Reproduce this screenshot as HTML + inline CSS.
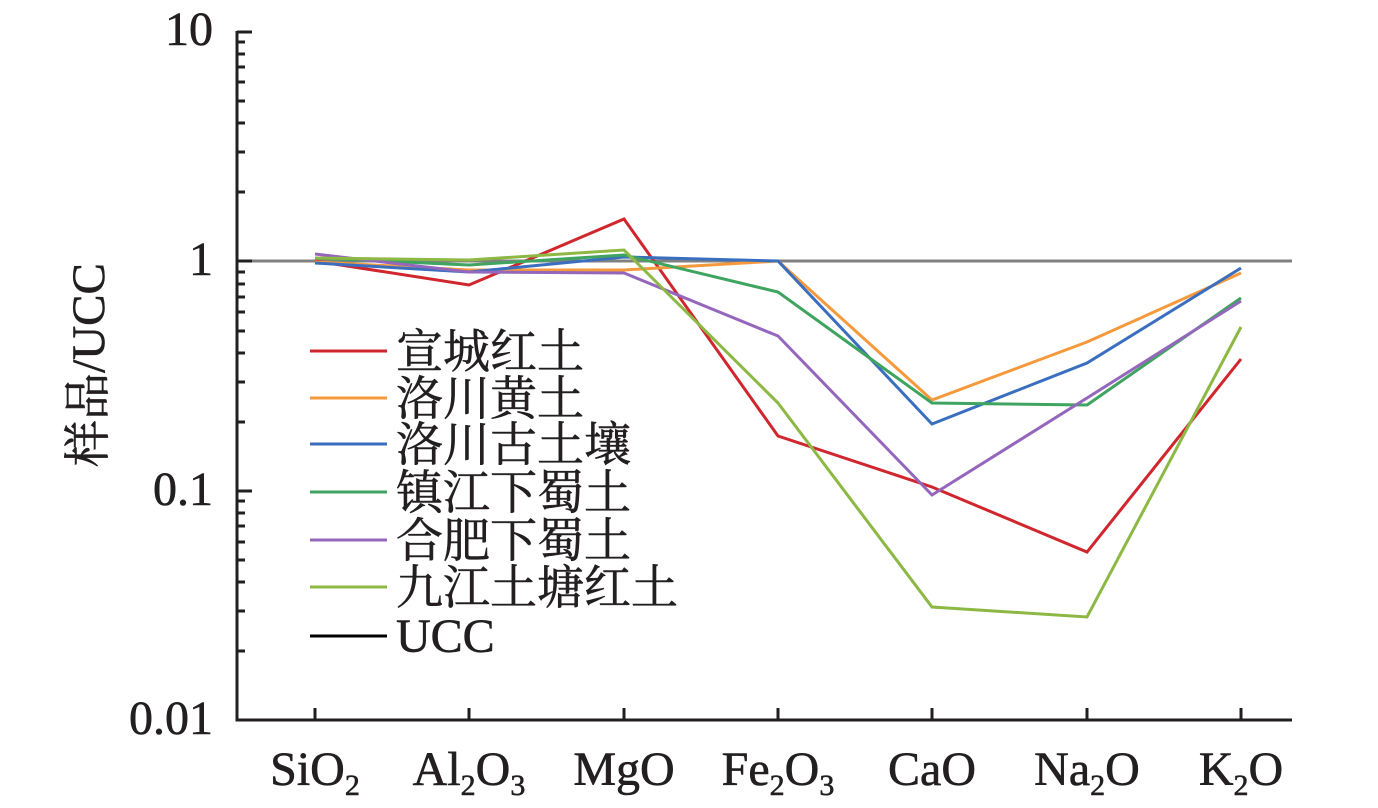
<!DOCTYPE html>
<html><head><meta charset="utf-8"><style>
html,body{margin:0;padding:0;background:#fff;}
svg{display:block;}
text{font-family:"Liberation Serif","Noto Serif CJK SC",serif;fill:#231f20;stroke:#231f20;stroke-width:0.6;}
</style></head><body>
<svg width="1378" height="808" viewBox="0 0 1378 808" xmlns="http://www.w3.org/2000/svg">
<g stroke="#231f20" stroke-width="3" fill="none">
<line x1="237" y1="31" x2="237" y2="721.5"/>
<line x1="235.5" y1="720" x2="1292" y2="720"/>
<line x1="237" y1="32" x2="252" y2="32"/>
<line x1="237" y1="261" x2="252" y2="261"/>
<line x1="237" y1="491" x2="252" y2="491"/>
<line x1="315" y1="720" x2="315" y2="708"/>
<line x1="469" y1="720" x2="469" y2="708"/>
<line x1="624" y1="720" x2="624" y2="708"/>
<line x1="778" y1="720" x2="778" y2="708"/>
<line x1="932" y1="720" x2="932" y2="708"/>
<line x1="1087" y1="720" x2="1087" y2="708"/>
<line x1="1241" y1="720" x2="1241" y2="708"/>
</g>
<g stroke="#231f20" stroke-width="3">
<line x1="237" y1="192" x2="245" y2="192"/><line x1="237" y1="152" x2="245" y2="152"/><line x1="237" y1="123" x2="245" y2="123"/><line x1="237" y1="101" x2="245" y2="101"/><line x1="237" y1="82" x2="245" y2="82"/><line x1="237" y1="67" x2="245" y2="67"/><line x1="237" y1="54" x2="245" y2="54"/><line x1="237" y1="42" x2="245" y2="42"/>
<line x1="237" y1="422" x2="245" y2="422"/><line x1="237" y1="382" x2="245" y2="382"/><line x1="237" y1="353" x2="245" y2="353"/><line x1="237" y1="331" x2="245" y2="331"/><line x1="237" y1="312" x2="245" y2="312"/><line x1="237" y1="297" x2="245" y2="297"/><line x1="237" y1="284" x2="245" y2="284"/><line x1="237" y1="272" x2="245" y2="272"/>
<line x1="237" y1="651" x2="245" y2="651"/><line x1="237" y1="611" x2="245" y2="611"/><line x1="237" y1="582" x2="245" y2="582"/><line x1="237" y1="560" x2="245" y2="560"/><line x1="237" y1="542" x2="245" y2="542"/><line x1="237" y1="526" x2="245" y2="526"/><line x1="237" y1="513" x2="245" y2="513"/><line x1="237" y1="501" x2="245" y2="501"/>
</g>
<line x1="252" y1="261" x2="1292" y2="261" stroke="#808080" stroke-width="3"/>
<g fill="none" stroke-width="3" stroke-linejoin="miter">
<polyline stroke="#d0262e" points="315,261 469,285 624,219 778,436 932,487 1087,552 1241,359"/>
<polyline stroke="#f59a3c" points="315,262 469,270 624,270 778,261 932,400 1087,342 1241,273"/>
<polyline stroke="#3a6fbf" points="315,263 469,272 624,257 778,261 932,424 1087,363 1241,268"/>
<polyline stroke="#3fa45f" points="315,258 469,265 624,255 778,292 932,403 1087,405 1241,298"/>
<polyline stroke="#9467bd" points="315,254 469,272 624,273 778,336 932,495 1087,398 1241,301"/>
<polyline stroke="#8cb843" points="315,258 469,260 624,250 778,403 932,607 1087,617 1241,327"/>
</g>
<g stroke-width="3">
<line x1="310" y1="351" x2="387" y2="351" stroke="#d0262e"/>
<line x1="310" y1="398" x2="387" y2="398" stroke="#f59a3c"/>
<line x1="310" y1="444" x2="387" y2="444" stroke="#3a6fbf"/>
<line x1="310" y1="492" x2="387" y2="492" stroke="#3fa45f"/>
<line x1="310" y1="540" x2="387" y2="540" stroke="#9467bd"/>
<line x1="310" y1="587" x2="387" y2="587" stroke="#8cb843"/>
<line x1="310" y1="636" x2="387" y2="636" stroke="#000"/>
</g>
<g font-size="47">
<text x="396" y="368">宣城红土</text>
<text x="396" y="415">洛川黄土</text>
<text x="396" y="461">洛川古土壤</text>
<text x="396" y="509">镇江下蜀土</text>
<text x="396" y="557">合肥下蜀土</text>
<text x="396" y="604">九江土塘红土</text>
<text x="396" y="652" font-size="48">UCC</text>
</g>
<g font-size="48" text-anchor="end">
<text x="213" y="45">10</text>
<text x="213" y="275">1</text>
<text x="213" y="505">0.1</text>
<text x="213" y="734">0.01</text>
</g>
<text transform="translate(104,365) rotate(-90)" font-size="47" text-anchor="middle">样品/UCC</text>
<g font-size="48" text-anchor="middle">
<text x="315" y="785">SiO<tspan font-size="30" dy="10">2</tspan></text>
<text x="469" y="785">Al<tspan font-size="30" dy="10">2</tspan><tspan dy="-10">O</tspan><tspan font-size="30" dy="10">3</tspan></text>
<text x="624" y="785">MgO</text>
<text x="778" y="785">Fe<tspan font-size="30" dy="10">2</tspan><tspan dy="-10">O</tspan><tspan font-size="30" dy="10">3</tspan></text>
<text x="932" y="785">CaO</text>
<text x="1087" y="785">Na<tspan font-size="30" dy="10">2</tspan><tspan dy="-10">O</tspan></text>
<text x="1241" y="785">K<tspan font-size="30" dy="10">2</tspan><tspan dy="-10">O</tspan></text>
</g>
</svg>
</body></html>
